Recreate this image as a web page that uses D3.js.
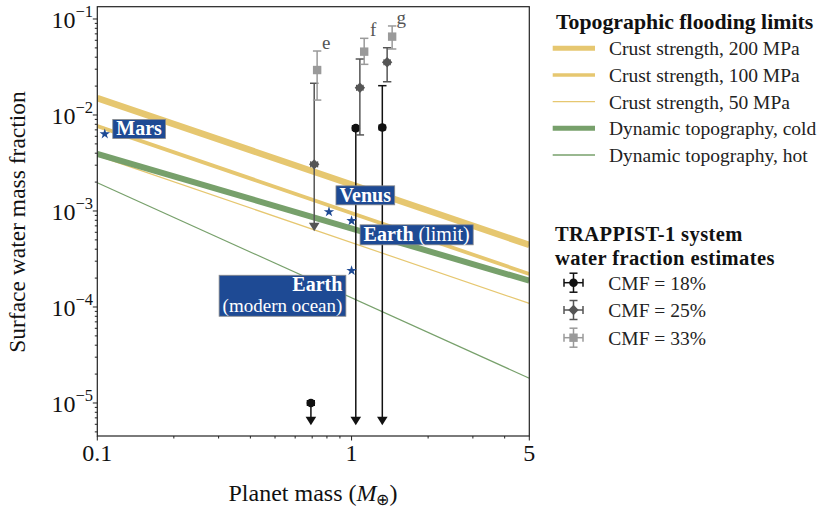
<!DOCTYPE html>
<html><head><meta charset="utf-8">
<script src="https://cdn.jsdelivr.net/npm/d3@7"></script>
<style>body{margin:0;background:#fff}svg{font-family:"Liberation Serif","Times New Roman",serif}</style>
</head><body><svg id="c" width="831" height="515"></svg>
<script>
// ---------------- data ----------------
const lineMass = [0.1, 5];
const crust200 = [0.0150, 4.43e-4];
const crust100 = [7.67e-3, 2.21e-4];
const crust50  = [3.77e-3, 1.09e-4];
const dynCold  = [3.93e-3, 1.88e-4];
const dynHot   = [1.97e-3, 1.81e-5];
const lineNames = ["Crust strength, 200 MPa","Crust strength, 100 MPa","Crust strength, 50 MPa","Dynamic topography, cold","Dynamic topography, hot"];

const planets = ["e","f","g"];
const massErr = [0.022, 0.031, 0.038];
const mass18 = [0.692, 1.039, 1.321];
const val18  = [1.0e-5, 7.3e-3, 7.4e-3];
const hi18   = [null, null, 2.02e-2];
const lo18   = [6.5e-6, 6.5e-6, 6.5e-6];
const lim18  = [true, true, true];
const mass25 = [0.713, 1.078, 1.380];
const val25  = [3.06e-3, 1.92e-2, 3.54e-2];
const hi25   = [2.14e-2, 3.83e-2, 5.02e-2];
const lo25   = [6.8e-4, 6.2e-3, 2.22e-2];
const lim25  = [true, false, false];
const mass33 = [0.732, 1.121, 1.444];
const val33  = [2.94e-2, 4.57e-2, 6.55e-2];
const hi33   = [4.64e-2, 6.29e-2, 8.46e-2];
const lo33   = [1.43e-2, 3.37e-2, 4.87e-2];
const lim33  = [false, false, false];
const cmfNames = ["CMF = 18%","CMF = 25%","CMF = 33%"];

const bodyNames = ["Mars","Venus","Earth","Earth"];
const bodyNotes = ["","","(limit)","(modern ocean)"];
const bodyMass  = [0.107, 0.815, 1.0, 1.0];
const bodyWater = [6.34e-3, 9.8e-4, 7.9e-4, 2.39e-4];

const yTicks = [1e-1,1e-2,1e-3,1e-4,1e-5];
const yTickLabels = ["−1","−2","−3","−4","−5"];
const xTicks = [0.1, 1, 5];
const xTickLabels = ["0.1","1","5"];

// ---------------- layout ----------------
const svg = d3.select("#c");
const L=97.3, R=529.3, T=6.7, B=436;
const x = d3.scaleLog().domain([0.1,5]).range([L,R]);
const y = d3.scaleLog().domain([0.1343,4.53e-6]).range([T,B]);
const yellow="#E6C770", green="#77A06B", blue="#1E4A94";

svg.append("clipPath").attr("id","clip").append("rect").attr("x",L).attr("y",T).attr("width",R-L).attr("height",B-T);
const plot = svg.append("g").attr("clip-path","url(#clip)");

const lineStyles = [
  {c:yellow,w:6.5},{c:yellow,w:3.8},{c:yellow,w:1.2},{c:green,w:6},{c:green,w:1.2}];
const lineVals=[crust200,crust100,crust50,dynCold,dynHot];
const lineGen = d3.line().x(d=>x(d[0])).y(d=>y(d[1]));
lineVals.forEach((v,i)=>{
  plot.append("path").attr("d",lineGen(lineMass.map((m,j)=>[m,v[j]])))
    .attr("fill","none").attr("stroke",lineStyles[i].c).attr("stroke-width",lineStyles[i].w);
});

// error bars
const groups=[
  {m:mass18,v:val18,hi:hi18,lo:lo18,lim:lim18,c:"#111111",shape:"circle"},
  {m:mass25,v:val25,hi:hi25,lo:lo25,lim:lim25,c:"#555555",shape:"diamond"},
  {m:mass33,v:val33,hi:hi33,lo:lo33,lim:lim33,c:"#9a9a9a",shape:"square"}];
function marker(g,shape,cx,cy,c){
  if(shape==="circle") g.append("circle").attr("cx",cx).attr("cy",cy).attr("r",4.3).attr("fill",c);
  else if(shape==="diamond") g.append("path").attr("d",`M${cx},${cy-5.2}L${cx+5.2},${cy}L${cx},${cy+5.2}L${cx-5.2},${cy}Z`).attr("fill",c);
  else g.append("rect").attr("x",cx-4.2).attr("y",cy-4.2).attr("width",8.4).attr("height",8.4).attr("fill",c);
}
const eb = svg.append("g");
groups.forEach(gr=>{
  planets.forEach((p,i)=>{
    const cx=x(gr.m[i]), cy=y(gr.v[i]);
    const top = gr.hi[i]!=null? y(gr.hi[i]) : cy;
    const bot = y(gr.lo[i]);
    eb.append("line").attr("x1",cx).attr("x2",cx).attr("y1",top).attr("y2",gr.lim[i]?bot-3:bot).attr("stroke",gr.c).attr("stroke-width",1.5);
    if(gr.hi[i]!=null) eb.append("line").attr("x1",cx-4.2).attr("x2",cx+4.2).attr("y1",top).attr("y2",top).attr("stroke",gr.c).attr("stroke-width",1.5);
    if(gr.lim[i]) eb.append("path").attr("d",`M${cx-5.3},${bot-4.2}L${cx+5.3},${bot-4.2}L${cx},${bot+4.3}Z`).attr("fill",gr.c);
    else eb.append("line").attr("x1",cx-4.2).attr("x2",cx+4.2).attr("y1",bot).attr("y2",bot).attr("stroke",gr.c).attr("stroke-width",1.5);
    const xl=x(gr.m[i]-massErr[i]), xr=x(gr.m[i]+massErr[i]);
    eb.append("line").attr("x1",xl).attr("x2",xr).attr("y1",cy).attr("y2",cy).attr("stroke",gr.c).attr("stroke-width",1.5);
    [xl,xr].forEach(xx=>eb.append("line").attr("x1",xx).attr("x2",xx).attr("y1",cy-3).attr("y2",cy+3).attr("stroke",gr.c).attr("stroke-width",1.3));
    marker(eb,gr.shape,cx,cy,gr.c);
  });
});
// planet letters
planets.forEach((p,i)=>{
  svg.append("text").attr("x",x(mass33[i])+9).attr("y",y(hi33[i])-2).attr("font-size",19).attr("fill","#555").attr("text-anchor","middle").text(p);
});

// bodies
const star = d3.symbol().type(d3.symbolStar).size(34);
bodyNames.forEach((n,i)=>{
  svg.append("path").attr("d",star()).attr("transform",`translate(${x(bodyMass[i])},${y(bodyWater[i])})`).attr("fill",blue);
});
const labelPos=[{a:"start",dx:8,cy:-5},{a:"start",dx:7,cy:-16.5},{a:"start",dx:8.5,cy:14},{a:"end",dx:-5.7,top:4.6}];
bodyNames.forEach((n,i)=>{
  const sx=x(bodyMass[i]), sy=y(bodyWater[i]);
  const g=svg.append("g");
  const lp=labelPos[i];
  const fs=20;
  const t=g.append("text").attr("font-size",fs).attr("fill","#fff");
  if(i===3){
    t.attr("text-anchor","end");
    t.append("tspan").attr("x",0).attr("y",0).attr("font-weight","bold").text(n);
    t.append("tspan").attr("x",0).attr("y",21).attr("font-size",19).text(bodyNotes[i]);
  } else {
    t.append("tspan").attr("font-weight","bold").text(n);
    if(bodyNotes[i]) t.append("tspan").text(" "+bodyNotes[i]);
  }
  const bb=t.node().getBBox();
  const rx=bb.x-3.5, ry=bb.y+2, rw=bb.width+7, rh=bb.height-3;
  g.insert("rect","text").attr("x",rx).attr("y",ry).attr("width",rw).attr("height",rh).attr("fill",blue).attr("stroke","#8a8a8a").attr("stroke-width",0.8);
  let tx,ty;
  if(lp.a==="start"){ tx=sx+lp.dx-rx; ty=sy+lp.cy-(ry+rh/2); }
  else { tx=sx+lp.dx-(rx+rw); ty=sy+lp.top-ry; }
  g.attr("transform",`translate(${tx},${ty})`);
});

// axes
const ax=svg.append("g").attr("stroke","#222").attr("fill","none");
ax.append("rect").attr("x",L).attr("y",T).attr("width",R-L).attr("height",B-T).attr("stroke-width",1.2);
for(let e=-6;e<=-1;e++){
  for(let k=1;k<10;k++){
    const v=k*Math.pow(10,e);
    if(v<4.53e-6||v>0.1343) continue;
    const len=k===1?4.5:2.5;
    ax.append("line").attr("x1",L-len).attr("x2",L).attr("y1",y(v)).attr("y2",y(v)).attr("stroke-width",1);
  }
}
for(let e=-1;e<=0;e++){
  for(let k=1;k<10;k++){
    const v=k*Math.pow(10,e);
    if(v<0.1||v>5) continue;
    const len=(k===1||v===5)?4.5:2.5;
    ax.append("line").attr("x1",x(v)).attr("x2",x(v)).attr("y1",B).attr("y2",B+len).attr("stroke-width",1);
  }
}
yTicks.forEach((v,i)=>{
  const t=svg.append("text").attr("x",93).attr("y",y(v)+9.5).attr("text-anchor","end").attr("font-size",24).attr("fill","#111");
  t.append("tspan").text("10");
  t.append("tspan").attr("font-size",16.5).attr("dy",-11).text(yTickLabels[i]);
});
xTicks.forEach((v,i)=>{
  svg.append("text").attr("x",x(v)).attr("y",461).attr("text-anchor","middle").attr("font-size",24).attr("fill","#111").text(xTickLabels[i]);
});
const xl=svg.append("text").attr("x",313).attr("y",501).attr("text-anchor","middle").attr("font-size",24).attr("fill","#111");
xl.append("tspan").text("Planet mass (");
xl.append("tspan").attr("font-style","italic").text("M");
xl.append("tspan").attr("font-size",16).attr("dy",4).text("⊕");
xl.append("tspan").attr("dy",-4).text(")");
svg.append("text").attr("transform","translate(25,222) rotate(-90)").attr("text-anchor","middle").attr("font-size",23.5).attr("fill","#111").text("Surface water mass fraction");

// legend 1
const lg=svg.append("g");
lg.append("text").attr("x",556).attr("y",29).attr("font-size",21.8).attr("font-weight","bold").attr("fill","#111").text("Topographic flooding limits");
const rows1=[48.3,75,101.7,128.3,155];
const legW=[5,3.5,1.2,5,1.5];
lineNames.forEach((n,i)=>{
  lg.append("line").attr("x1",552.7).attr("x2",595).attr("y1",rows1[i]).attr("y2",rows1[i]).attr("stroke",lineStyles[i].c).attr("stroke-width",legW[i]);
  lg.append("text").attr("x",609).attr("y",rows1[i]+7).attr("font-size",19.5).attr("fill","#222").text(n);
});
// legend 2 title
lg.append("text").attr("x",555).attr("y",240.5).attr("font-size",20.5).attr("letter-spacing",0.4).attr("font-weight","bold").attr("fill","#111").text("TRAPPIST-1 system");
lg.append("text").attr("x",555).attr("y",264.5).attr("font-size",20.5).attr("letter-spacing",0.4).attr("font-weight","bold").attr("fill","#111").text("water fraction estimates");
const rows2=[282.7,310,337.7];
groups.forEach((gr,i)=>{
  const cx=573.5, cy=rows2[i];
  lg.append("line").attr("x1",cx).attr("x2",cx).attr("y1",cy-9.5).attr("y2",cy+9.5).attr("stroke",gr.c).attr("stroke-width",1.5);
  lg.append("line").attr("x1",cx-9.5).attr("x2",cx+9.5).attr("y1",cy).attr("y2",cy).attr("stroke",gr.c).attr("stroke-width",1.5);
  [-9.5,9.5].forEach(d=>{
    lg.append("line").attr("x1",cx-4).attr("x2",cx+4).attr("y1",cy+d).attr("y2",cy+d).attr("stroke",gr.c).attr("stroke-width",1.5);
    lg.append("line").attr("x1",cx+d).attr("x2",cx+d).attr("y1",cy-4).attr("y2",cy+4).attr("stroke",gr.c).attr("stroke-width",1.5);
  });
  marker(lg,gr.shape,cx,cy,gr.c);
  lg.append("text").attr("x",608.3).attr("y",cy+7).attr("font-size",19.5).attr("fill","#222").text(cmfNames[i]);
});
</script></body></html>
